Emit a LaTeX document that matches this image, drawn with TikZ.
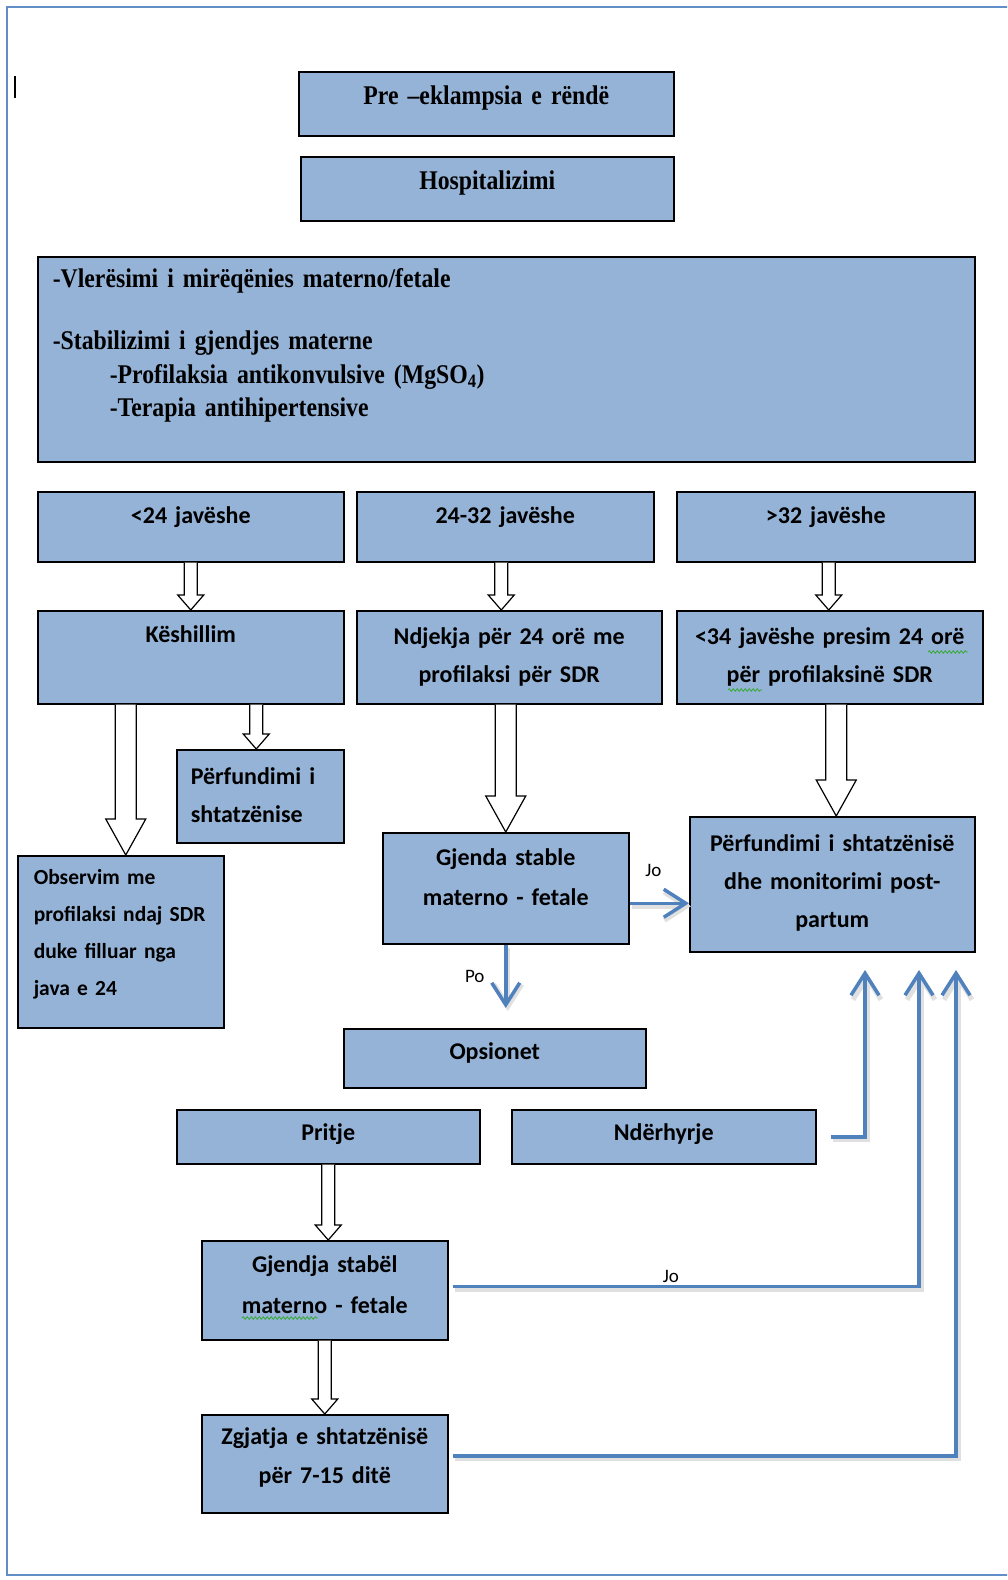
\documentclass[tikz,border=0pt]{standalone}
\usepackage{fontspec}
\setmainfont{Carlito}
\newfontfamily\timesfont[FakeStretch=0.88]{Liberation Serif}
\usetikzlibrary{calc,arrows.meta,decorations.pathmorphing}
\definecolor{boxfill}{RGB}{149,179,215}
\definecolor{linkblue}{RGB}{79,129,189}
\definecolor{frameblue}{RGB}{98,142,199}
\definecolor{spellgreen}{RGB}{60,170,60}

\begin{document}
\begin{tikzpicture}[x=1pt, y=-1pt,
  main/.style n args={3}{draw, line width=1.5pt, fill=boxfill, anchor=north west, inner xsep=0pt, inner ysep=0pt, align=center, text width=#1, text height=#2, text depth=#3, font=\bfseries\fontsize{24}{38}\selectfont},
  times/.style={font=\timesfont\bfseries\fontsize{27}{33.5}\selectfont},
  hollow/.style n args={3}{draw=black, fill=white, line width=1.2pt, to path={let \p1=(\tikztostart), \p2=(\tikztotarget) in (\x1-#1,\y1) -- (\x1-#1,\y2+#3) -- (\x1-#2,\y2+#3) -- (\x1,\y2) -- (\x1+#2,\y2+#3) -- (\x1+#1,\y2+#3) -- (\x1+#1,\y1)}},
  smallarrow/.style={hollow={6.5pt}{13pt}{15pt}},
  bigarrow/.style={hollow={10.5pt}{20pt}{36pt}},
  link/.style={draw=linkblue, line width=3.5pt, -{Straight Barb[length=22pt, width=28pt]}, preaction={draw=black!12, line width=5pt, transform canvas={shift={(2pt,-3pt)}}}},
  lab/.style={font=\fontsize{19}{19}\selectfont, text=black, inner sep=0pt},
  spell/.style={draw=spellgreen, line width=0.9pt, decorate, decoration={snake, amplitude=1.2pt, segment length=4pt}}]
\useasboundingbox (0,0) rectangle (1007,1580);
\clip (0,0) rectangle (1007,1580);
\draw[frameblue, line width=2pt] (1020,7) -- (7,7) -- (7,1575) -- (1020,1575);
\draw[line width=1.2pt] (15,76) -- (15,98);

\node[main={375pt}{33pt}{31pt}, times] (1) at (298,71) {Pre –eklampsia e rëndë};
\node[main={373pt}{33pt}{31pt}, times] (2) at (300,156) {Hospitalizimi};
\node[main={907pt}{31pt}{174pt}, times, align=left, inner xsep=15pt] (3) at (37,256) {-Vlerësimi i mirëqënies materno/fetale\\[28.5pt]-Stabilizimi i gjendjes materne\\\hspace*{57pt}-Profilaksia antikonvulsive (MgSO\textsubscript{4})\\\hspace*{57pt}-Terapia antihipertensive};

\node[main={306pt}{32pt}{38pt}] (4) at (37,491) {<24 javëshe};
\node[main={297pt}{32pt}{38pt}] (5) at (356,491) {24-32 javëshe};
\node[main={298pt}{32pt}{38pt}] (6) at (676,491) {>32 javëshe};

\node[main={306pt}{32pt}{61pt}] (7) at (37,610) {Këshillim};
\node[main={305pt}{34pt}{59pt}] (8) at (356,610) {Ndjekja për 24 orë me\\profilaksi për SDR};
\node[main={306pt}{34pt}{59pt}] (9) at (676,610) {<34 javëshe presim 24 orë\\për profilaksinë SDR};

\node[main={139pt}{35pt}{58pt}, align=left, inner xsep=14pt] (10) at (176,749) {Përfundimi i\\shtatzënise};
\node[main={174pt}{29pt}{143pt}, align=left, inner xsep=16pt, font=\bfseries\fontsize{21.5}{37}\selectfont] (11) at (17,855) {Observim me\\profilaksi ndaj SDR\\duke filluar nga\\java e 24};
\node[main={246pt}{33pt}{78pt}] (12) at (382,832) {Gjenda stable\\[2pt]materno - fetale};
\node[main={285pt}{35pt}{100pt}] (13) at (689,816) {Përfundimi i shtatzënisë\\dhe monitorimi post-\\partum};

\node[main={302pt}{31pt}{28pt}] (14) at (343,1028) {Opsionet};
\node[main={303pt}{31pt}{23pt}] (15) at (176,1109) {Pritje};
\node[main={304pt}{31pt}{23pt}] (16) at (511,1109) {Ndërhyrje};
\node[main={246pt}{32pt}{67pt}] (17) at (201,1240) {Gjendja stabël\\[3pt]materno - fetale};
\node[main={246pt}{30pt}{68pt}] (18) at (201,1414) {Zgjatja e shtatzënisë\\[1pt]për 7-15 ditë};

\coordinate (po) at ([yshift=20pt]14.north -| 12.south);
\coordinate (e1) at (865,970);
\coordinate (e2) at (919,970);
\coordinate (e3) at (956,970);

\path
(4.south) edge[smallarrow] (7.north)
($(5.south)+(-4,0)$) edge[smallarrow] (8.north)
($(6.south)+(3,0)$) edge[smallarrow] (9.north)
($(7.south -| 11.north)+(5,0)$) edge[bigarrow] (11.north)
($(7.south -| 10.north)+(-4,0)$) edge[smallarrow] (10.north)
(8.south -| 12.north) edge[bigarrow] (12.north)
($(9.south -| 13.north)+(4,0)$) edge[bigarrow] (13.north)
(15.south) edge[smallarrow] (17.north)
(17.south) edge[smallarrow] (18.north)
;

\draw[link] ([yshift=-15pt]12.east) -- ([yshift=-15pt]12.east -| 13.west) node[lab, pos=0.4, yshift=33pt] {Jo};
\draw[link] (12.south) -- (po) node[lab, midway, xshift=-31pt] {Po};
\draw[link] ([xshift=14pt]16.east) -| (e1);
\draw[link] ([xshift=4pt, yshift=4pt]17.east) -| (e2) node[lab, pos=0.234, yshift=10pt] {Jo};
\draw[link] ([xshift=4pt, yshift=8pt]18.east) -| (e3);

\draw[spell] (928,652) -- (968,652);
\draw[spell] (728,690) -- (762,690);
\draw[spell] (242,1318) -- (318,1318);
\end{tikzpicture}
\end{document}
